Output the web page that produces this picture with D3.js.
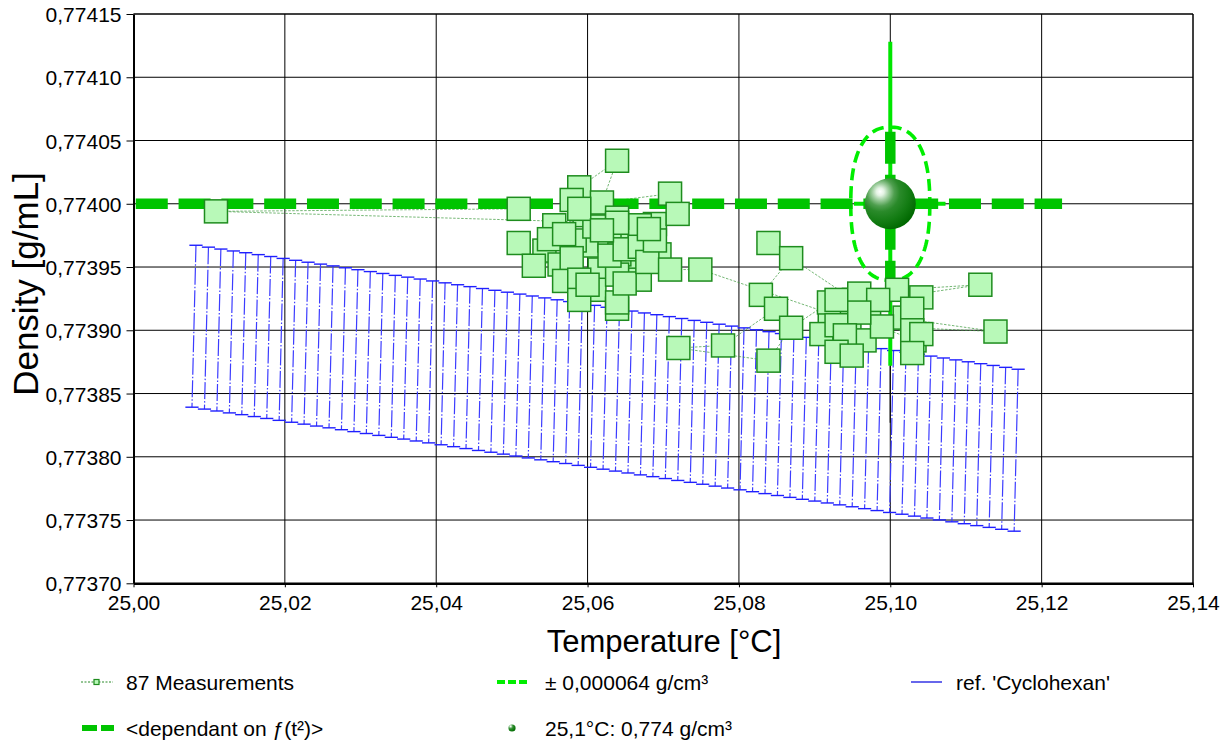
<!DOCTYPE html>
<html><head><meta charset="utf-8">
<script src="https://cdn.jsdelivr.net/npm/d3@7"></script>
<style>
body{margin:0;background:#fff}
svg{display:block}
text{font-family:"Liberation Sans",Arial,Helvetica,sans-serif;fill:#000}
</style>
</head><body>
<svg id="chart" width="1224" height="742"></svg>
<script>
// ---------------- data ----------------
const xTicks = [25.00, 25.02, 25.04, 25.06, 25.08, 25.10, 25.12, 25.14];
const yTicks = [0.77370, 0.77375, 0.77380, 0.77385, 0.77390, 0.77395, 0.77400, 0.77405, 0.77410, 0.77415];

// 87 measurements, in measurement order
const measTemp = [
  25.0509, 25.0109, 25.0689,
  25.0543, 25.0603, 25.0655, 25.0563, 25.0616, 25.0669, 25.0596, 25.0629, 25.0556, 25.0655, 25.0609, 25.0695, 25.0583, 25.0642, 25.0616, 25.0669,
  25.0609, 25.0589, 25.0639, 25.0619, 25.0709, 25.0719, 25.0639, 25.0579, 25.0589, 25.0549, 25.0569, 25.0509, 25.0529, 25.0579, 25.0569, 25.0589,
  25.0589, 25.0600, 25.0639, 25.0639, 25.0639, 25.0649, 25.0629, 25.0649, 25.0669, 25.0679, 25.0689, 25.0681, 25.0639, 25.0619, 25.0709, 25.0749,
  25.0946, 25.0972, 25.0920, 25.1019, 25.0939, 25.0966, 25.0933, 25.1032, 25.0952,
  25.0839, 25.0869, 25.0829, 25.0849, 25.0779, 25.0720, 25.0839, 25.0869, 25.0919, 25.0929, 25.0909, 25.0929, 25.0959, 25.1009,
  25.1119, 25.0984, 25.0989, 25.1139, 25.0959, 25.0940, 25.0929, 25.0949, 25.1041, 25.1029, 25.1029, 25.1041, 25.1029
];
const measDensity = [
  0.773996, 0.773994, 0.773984,
  0.773963, 0.773967, 0.773975, 0.773952, 0.773948, 0.773983, 0.773991, 0.773971, 0.773983, 0.773954, 0.773932, 0.773960, 0.773971, 0.773960, 0.773991, 0.773940,
  0.773982, 0.774013, 0.774034, 0.774001, 0.774008, 0.773992, 0.773989, 0.774003, 0.773996, 0.773972, 0.773976, 0.773969, 0.773951, 0.773957, 0.773939, 0.773940,
  0.773924, 0.773936, 0.773917, 0.773922, 0.773944, 0.773937, 0.773959, 0.773964, 0.773966, 0.773954, 0.773971, 0.773980, 0.773985, 0.773979, 0.773948, 0.773948,
  0.773908, 0.773916, 0.773912, 0.773910, 0.773888, 0.773892, 0.773916, 0.773892, 0.773924,
  0.773969, 0.773957, 0.773928, 0.773917, 0.773888, 0.773886, 0.773876, 0.773902, 0.773922, 0.773924, 0.773897, 0.773904, 0.773929, 0.773932,
  0.773936, 0.773924, 0.773903, 0.773899, 0.773914, 0.773896, 0.773883, 0.773880, 0.773926, 0.773917, 0.773900, 0.773897, 0.773882
];

// reference 'Cyclohexan' (with tolerance band)
const refTemp = [
  25.00799, 25.00964, 25.01128, 25.01293, 25.01457, 25.01622, 25.01787, 25.01951, 25.02116, 25.02280,
  25.02445, 25.02610, 25.02774, 25.02939, 25.03103, 25.03268, 25.03433, 25.03597, 25.03762, 25.03926,
  25.04091, 25.04256, 25.04420, 25.04585, 25.04749, 25.04914, 25.05079, 25.05243, 25.05408, 25.05572,
  25.05737, 25.05902, 25.06066, 25.06231, 25.06395, 25.06560, 25.06725, 25.06889, 25.07054, 25.07218,
  25.07383, 25.07548, 25.07712, 25.07877, 25.08041, 25.08206, 25.08371, 25.08535, 25.08700, 25.08864,
  25.09029, 25.09194, 25.09358, 25.09523, 25.09687, 25.09852, 25.10017, 25.10181, 25.10346, 25.10510,
  25.10675, 25.10840, 25.11004, 25.11169, 25.11333, 25.11498, 25.11663
];
const refDensity = [
  0.7739032, 0.7739017, 0.7739002, 0.7738987, 0.7738973, 0.7738958, 0.7738943, 0.7738928, 0.7738913, 0.7738898,
  0.7738883, 0.7738869, 0.7738854, 0.7738839, 0.7738824, 0.7738809, 0.7738794, 0.7738780, 0.7738765, 0.7738750,
  0.7738735, 0.7738720, 0.7738705, 0.7738690, 0.7738676, 0.7738661, 0.7738646, 0.7738631, 0.7738616, 0.7738601,
  0.7738587, 0.7738572, 0.7738557, 0.7738542, 0.7738527, 0.7738512, 0.7738497, 0.7738483, 0.7738468, 0.7738453,
  0.7738438, 0.7738423, 0.7738408, 0.7738393, 0.7738379, 0.7738364, 0.7738349, 0.7738334, 0.7738319, 0.7738304,
  0.7738290, 0.7738275, 0.7738260, 0.7738245, 0.7738230, 0.7738215, 0.7738200, 0.7738186, 0.7738171, 0.7738156,
  0.7738141, 0.7738126, 0.7738111, 0.7738096, 0.7738082, 0.7738067, 0.7738052
];
const refTolerance = 0.000064;

// result
const resultTemp = 25.10;
const resultDensity = 0.77400;
const resultDensityBar = [0.774128, 0.773872];
const resultTempBar = [25.0952, 25.1073];
const resultRefDensity = 0.773827;
const ellipseHalfTemp = 0.00522;
const ellipseHalfDensity = 0.0000605;
const dependantTemp = [25.0003, 25.1227];
const dependantDensity = [0.774057, 0.773941];

const legendLabels = ["87 Measurements", "± 0,000064 g/cm³", "ref. 'Cyclohexan'", "<dependant on ƒ(t²)>", "25,1°C: 0,774 g/cm³"];
const xTitle = "Temperature [°C]";
const yTitle = "Density [g/mL]";

// ---------------- drawing ----------------
const svg = d3.select("#chart");
const L = 133.5, R = 1193, T = 14, B = 583.3;
const x = d3.scaleLinear().domain([25.00, 25.14]).range([L, R]);
const y = d3.scaleLinear().domain([0.77370, 0.77415]).range([B, T]);
const loc = d3.formatLocale({decimal: ",", thousands: ".", grouping: [3], currency: ["", ""]});
const fx = loc.format(".2f"), fy = loc.format(".5f");

const defs = svg.append("defs");
const grad = defs.append("radialGradient").attr("id", "sphere")
  .attr("cx", "0.32").attr("cy", "0.3").attr("r", "0.75").attr("fx", "0.3").attr("fy", "0.26");
[[0, "#ffffff"], [0.1, "#e4f3e4"], [0.22, "#9ccc9c"], [0.36, "#4f9f4f"], [0.5, "#2a8a2a"], [0.75, "#137c13"], [1, "#006800"]]
  .forEach(s => grad.append("stop").attr("offset", s[0]).attr("stop-color", s[1]));

// grid
const grid = svg.append("g");
grid.selectAll(".vg").data(xTicks.slice(1)).join("line")
  .attr("x1", d => x(d)).attr("x2", d => x(d)).attr("y1", T).attr("y2", B)
  .attr("stroke", "#000").attr("stroke-width", 1);
grid.selectAll(".hg").data(yTicks.slice(1)).join("line")
  .attr("x1", L).attr("x2", R).attr("y1", d => y(d)).attr("y2", d => y(d))
  .attr("stroke", "#000").attr("stroke-width", 1);

// reference band as error bars
const band = svg.append("g");
const refIdx = d3.range(refTemp.length);
band.selectAll(".bar").data(refIdx).join("line")
  .attr("x1", i => x(refTemp[i]) + 2).attr("y1", i => y(refDensity[i] + refTolerance))
  .attr("x2", i => x(refTemp[i]) - 2).attr("y2", i => y(refDensity[i] - refTolerance))
  .attr("stroke", "#3c3cff").attr("stroke-width", 1.2).attr("stroke-dasharray", "17,2,1.5,2");
band.selectAll(".capT").data(refIdx).join("line")
  .attr("x1", i => x(refTemp[i]) + 2 - 6.6).attr("x2", i => x(refTemp[i]) + 2 + 6.6)
  .attr("y1", i => y(refDensity[i] + refTolerance)).attr("y2", i => y(refDensity[i] + refTolerance))
  .attr("stroke", "#1f1fff").attr("stroke-width", 1.4);
band.selectAll(".capB").data(refIdx).join("line")
  .attr("x1", i => x(refTemp[i]) - 2 - 6.6).attr("x2", i => x(refTemp[i]) - 2 + 6.6)
  .attr("y1", i => y(refDensity[i] - refTolerance)).attr("y2", i => y(refDensity[i] - refTolerance))
  .attr("stroke", "#1f1fff").attr("stroke-width", 1.4);

// measurement connection line
const mIdx = d3.range(measTemp.length);
svg.append("path")
  .attr("d", d3.line().x(i => x(measTemp[i])).y(i => y(measDensity[i]))(mIdx))
  .attr("fill", "none").attr("stroke", "#3f9a3f").attr("stroke-width", 0.8)
  .attr("stroke-dasharray", "2.5,1.5").attr("opacity", 0.9);

// deviation to reference
svg.append("line")
  .attr("x1", x(resultTemp)).attr("x2", x(resultTemp))
  .attr("y1", y(resultDensityBar[1])).attr("y2", y(resultRefDensity))
  .attr("stroke", "#111").attr("stroke-width", 1.3);

// thin result error bars
svg.append("line")
  .attr("x1", x(resultTemp)).attr("x2", x(resultTemp))
  .attr("y1", y(resultDensityBar[0])).attr("y2", y(resultDensityBar[1]))
  .attr("stroke", "#00e600").attr("stroke-width", 4);
svg.append("line")
  .attr("x1", x(resultTempBar[0])).attr("x2", x(resultTempBar[1]))
  .attr("y1", y(resultDensity)).attr("y2", y(resultDensity))
  .attr("stroke", "#00e600").attr("stroke-width", 4);

// ellipse (± tolerance)
{
  const cx = x(resultTemp), cy = y(resultDensity);
  const rx = x(resultTemp + ellipseHalfTemp) - cx, ry = cy - y(resultDensity + ellipseHalfDensity);
  const n = 2.4;
  const pts = d3.range(0, 360, 2).map(a => {
    const r = a * Math.PI / 180, c = Math.cos(r), s = Math.sin(r);
    return [cx + rx * Math.sign(c) * Math.pow(Math.abs(c), 2 / n), cy + ry * Math.sign(s) * Math.pow(Math.abs(s), 2 / n)];
  });
  svg.append("path").attr("d", d3.line()(pts) + "Z")
    .attr("fill", "none").attr("stroke", "#00ee00").attr("stroke-width", 3.6)
    .attr("stroke-dasharray", "12,6");
}

// dependant on f(t²) thick dashes
svg.append("line")
  .attr("x1", x(dependantTemp[0])).attr("x2", x(dependantTemp[1]))
  .attr("y1", y(resultDensity)).attr("y2", y(resultDensity))
  .attr("stroke", "#00c400").attr("stroke-width", 10.5).attr("stroke-dasharray", "32,10.8");
svg.append("line")
  .attr("x1", x(resultTemp)).attr("x2", x(resultTemp))
  .attr("y1", y(dependantDensity[0])).attr("y2", y(dependantDensity[1]))
  .attr("stroke", "#00c400").attr("stroke-width", 10.5).attr("stroke-dasharray", "32,11");

// measurement squares
const S = 23;
svg.append("g").selectAll("rect").data(mIdx).join("rect")
  .attr("x", i => x(measTemp[i]) - S / 2).attr("y", i => y(measDensity[i]) - S / 2)
  .attr("width", S).attr("height", S)
  .attr("fill", "#b8f9b8").attr("stroke", "#1e8c1e").attr("stroke-width", 1.5);

// result sphere
svg.append("circle").attr("cx", x(resultTemp)).attr("cy", y(resultDensity)).attr("r", 25.5)
  .attr("fill", "url(#sphere)");

// axes
const yAxis = d3.axisLeft(y).tickValues(yTicks).tickFormat(fy).tickSize(7).tickPadding(5).tickSizeOuter(0);
const gy = svg.append("g").attr("transform", `translate(${L},0)`).call(yAxis);
gy.selectAll("text").attr("font-size", 21).attr("dy", "0.36em").style("font-family", '"Liberation Sans",Arial,sans-serif');
gy.select(".domain").attr("stroke", "#000").attr("stroke-width", 2);

const xAxis = d3.axisBottom(x).tickValues(xTicks).tickFormat(fx).tickSize(4).tickPadding(8).tickSizeOuter(0);
const gx = svg.append("g").attr("transform", `translate(0,${B})`).call(xAxis);
gx.selectAll("text").attr("font-size", 21).style("font-family", '"Liberation Sans",Arial,sans-serif');
gx.select(".domain").attr("stroke", "#000").attr("stroke-width", 2.4);

// border top/right
svg.append("line").attr("x1", L).attr("x2", R).attr("y1", T).attr("y2", T).attr("stroke", "#000").attr("stroke-width", 1);
svg.append("line").attr("x1", R).attr("x2", R).attr("y1", T).attr("y2", B).attr("stroke", "#000").attr("stroke-width", 1);

// titles
svg.append("text").attr("x", 664).attr("y", 652).attr("text-anchor", "middle").attr("font-size", 31).text(xTitle);
svg.append("text").attr("transform", "translate(38,284) rotate(-90)").attr("text-anchor", "middle").attr("font-size", 35).text(yTitle);

// legend
const lg = svg.append("g");
const r1 = 682, r2 = 728;
lg.append("line").attr("x1", 81).attr("x2", 113).attr("y1", r1).attr("y2", r1)
  .attr("stroke", "#2a8a2a").attr("stroke-width", 1).attr("stroke-dasharray", "2,1.5");
lg.append("rect").attr("x", 94).attr("y", r1 - 2.5).attr("width", 5).attr("height", 5)
  .attr("fill", "#b8f9b8").attr("stroke", "#1e8c1e").attr("stroke-width", 1.2);
lg.append("text").attr("x", 126).attr("y", r1 + 7.5).attr("font-size", 21).text(legendLabels[0]);

lg.append("line").attr("x1", 497).attr("x2", 528).attr("y1", r1).attr("y2", r1)
  .attr("stroke", "#00ee00").attr("stroke-width", 4).attr("stroke-dasharray", "8,3");
lg.append("text").attr("x", 545).attr("y", r1 + 7.5).attr("font-size", 21).text(legendLabels[1]);

lg.append("line").attr("x1", 911).attr("x2", 942).attr("y1", r1).attr("y2", r1)
  .attr("stroke", "#0000dd").attr("stroke-width", 1.2);
lg.append("text").attr("x", 956).attr("y", r1 + 7.5).attr("font-size", 21).text(legendLabels[2]);

lg.append("line").attr("x1", 82).attr("x2", 114).attr("y1", r2).attr("y2", r2)
  .attr("stroke", "#00c400").attr("stroke-width", 6).attr("stroke-dasharray", "15,4");
lg.append("text").attr("x", 126).attr("y", r2 + 8).attr("font-size", 21).text(legendLabels[3]);

lg.append("circle").attr("cx", 512).attr("cy", r2).attr("r", 3.6).attr("fill", "url(#sphere)");
lg.append("text").attr("x", 545).attr("y", r2 + 8).attr("font-size", 21).text(legendLabels[4]);
</script>
</body></html>
